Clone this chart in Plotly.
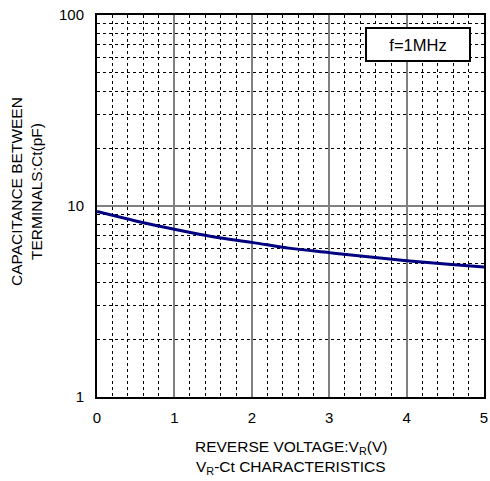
import plotly.graph_objects as go

# Data
voltage_v = [0, 0.5, 1, 1.5, 2, 2.5, 3, 3.5, 4, 4.5, 5]
capacitance_pf = [9.35, 8.35, 7.55, 6.9, 6.45, 6.0, 5.7, 5.42, 5.17, 4.97, 4.8]

x_ticks = [0, 1, 2, 3, 4, 5]
y_ticks = [1, 10, 100]
y_tick_text = ["1", "10", "100"]
y_minor = [2, 3, 4, 5, 6, 7, 8, 9, 20, 30, 40, 50, 60, 70, 80, 90]

FONT = "Liberation Sans, Arial, sans-serif"

fig = go.Figure()
fig.add_trace(go.Scatter(
    x=voltage_v, y=capacitance_pf, mode="lines",
    line=dict(color="#000080", width=3, shape="spline"),
    showlegend=False, hoverinfo="skip",
))

fig.update_layout(
    width=490, height=481,
    margin=dict(l=97, r=2, t=15, b=84),
    paper_bgcolor="white", plot_bgcolor="white",
    font=dict(family=FONT, size=15, color="black"),
    showlegend=False,
)

fig.update_xaxes(
    range=[0, 5], tickmode="array", tickvals=x_ticks,
    showgrid=True, gridcolor="#808080", gridwidth=2,
    minor=dict(dtick=0.2, tick0=0, showgrid=True, gridcolor="black", griddash="dot", gridwidth=1, ticks=""),
    showline=True, mirror=True, linecolor="black", linewidth=2,
    zeroline=False, ticks="", ticklabelstandoff=6, ticklabeloverflow="allow",
    tickfont=dict(size=15),
)
fig.update_yaxes(
    type="log", range=[0, 2], tickmode="array", tickvals=y_ticks, ticktext=y_tick_text,
    showgrid=True, gridcolor="#808080", gridwidth=2,
    minor=dict(tickmode="array", tickvals=y_minor, showgrid=True, gridcolor="black", griddash="dot", gridwidth=1, ticks=""),
    showline=True, mirror=True, linecolor="black", linewidth=2,
    zeroline=False, ticks="", ticklabelstandoff=8, ticklabeloverflow="allow",
    tickfont=dict(size=15),
)

# Axis titles as annotations
fig.add_annotation(
    text="CAPACITANCE BETWEEN<br>TERMINALS:Ct(pF)", textangle=-90,
    xref="paper", yref="paper", x=0, y=(397 - 192) / 382,
    xanchor="center", yanchor="middle", xshift=-71, showarrow=False,
    font=dict(size=15.5), align="center",
)
fig.add_annotation(
    text="REVERSE VOLTAGE:V<sub>R</sub>(V)", xref="paper", yref="paper",
    x=0.5, y=0, yanchor="middle", yshift=-50, showarrow=False, font=dict(size=15.5),
)
fig.add_annotation(
    text="V<sub>R</sub>-Ct CHARACTERISTICS", xref="paper", yref="paper",
    x=0.5, y=0, yanchor="middle", yshift=-70, showarrow=False, font=dict(size=15.5),
)

# Condition box
fig.add_annotation(
    text="f=1MHz", xref="paper", yref="paper",
    x=(421 - 97) / 391, y=(397 - 44.5) / 382, xanchor="center", yanchor="middle",
    showarrow=False, bgcolor="white", bordercolor="black", borderwidth=2,
    borderpad=0, width=102, height=31, font=dict(size=16.5),
)

fig.write_html(
    "out.html",
    config={"displayModeBar": False},
    post_script="document.body.style.margin='0';document.body.style.overflow='hidden';",
)
